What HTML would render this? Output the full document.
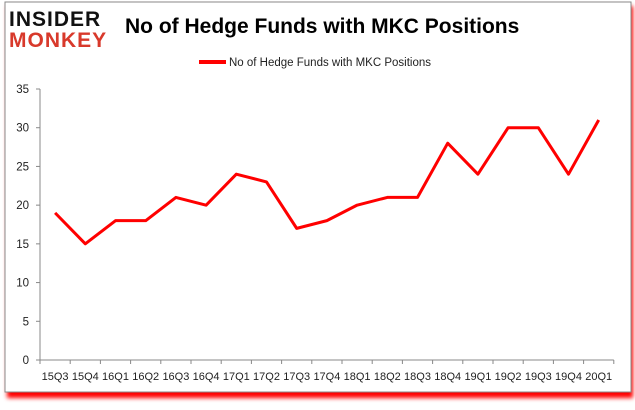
<!DOCTYPE html>
<html><head><meta charset="utf-8"><style>
body{margin:0;background:#fff;width:635px;height:405px;overflow:hidden;font-family:"Liberation Sans",sans-serif}
</style></head><body>
<svg width="635" height="405" xmlns="http://www.w3.org/2000/svg">
<defs><filter id="sh" x="-5%" y="-5%" width="110%" height="115%"><feGaussianBlur stdDeviation="2"/></filter></defs>
<rect x="7" y="6" width="626" height="392" fill="#f00" filter="url(#sh)"/>
<rect x="5" y="2" width="626" height="390" fill="#fff" stroke="#888"/>
<g>
<text x="9" y="26" font-size="21" font-weight="900" fill="#111" letter-spacing="1">INSIDER</text>
<text x="9" y="47" font-size="21" font-weight="900" fill="#d8392b" letter-spacing="1">MONKEY</text>
</g>
<text x="125" y="33" font-size="21" font-weight="bold" fill="#000">No of Hedge Funds with MKC Positions</text>
<line x1="199" y1="62" x2="226" y2="62" stroke="#f00" stroke-width="4"/>
<text x="229" y="66" font-size="11.5" fill="#222">No of Hedge Funds with MKC Positions</text>
<g id="axes"></g>
<g id="series"></g>
</svg>
<script>
const categories=["15Q3","15Q4","16Q1","16Q2","16Q3","16Q4","17Q1","17Q2","17Q3","17Q4","18Q1","18Q2","18Q3","18Q4","19Q1","19Q2","19Q3","19Q4","20Q1"];
const values=[19,15,18,18,21,20,24,23,17,18,20,21,21,28,24,30,30,24,31];
const yTicks=[0,5,10,15,20,25,30,35];
const NS="http://www.w3.org/2000/svg";
const x0=40,step=30.2,yBase=360,yTop=89,yMax=35;
const xPos=i=>x0+step*(i+0.5);
const yPos=v=>yBase-(v/yMax)*(yBase-yTop);
const ax=document.getElementById('axes');
function mk(t,a,p){const e=document.createElementNS(NS,t);for(const k in a)e.setAttribute(k,a[k]);p.appendChild(e);return e;}
const ya=mk('line',{x1:x0,y1:yTop,x2:x0,y2:yBase,stroke:'#888'},ax);


const xa=mk('line',{x1:x0,y1:yBase,x2:x0+step*categories.length,y2:yBase,stroke:'#888'},ax);


yTicks.forEach(v=>{
 const y=yPos(v);
 mk('line',{x1:x0-4,y1:y,x2:x0,y2:y,stroke:'#888'},ax);
 const t=mk('text',{x:x0-11,y:y+4,'font-size':11.5,'text-anchor':'end',fill:'#222'},ax);
 t.textContent=v;
 
 
});
categories.forEach((c,i)=>{
 const xt=x0+step*i;
 mk('line',{x1:xt,y1:yBase,x2:xt,y2:yBase+4,stroke:'#888'},ax);
 const t=mk('text',{x:xPos(i),y:yBase+20,'font-size':11,'text-anchor':'middle',fill:'#222'},ax);
 t.textContent=c;
 
 
});
mk('line',{x1:x0+step*categories.length,y1:yBase,x2:x0+step*categories.length,y2:yBase+4,stroke:'#888'},ax);
const pts=values.map((v,i)=>xPos(i)+','+yPos(v)).join(' ');
const pl=mk('polyline',{points:pts,fill:'none',stroke:'#f00','stroke-width':3,'stroke-linejoin':'round'},document.getElementById('series'));


</script>
</body></html>
